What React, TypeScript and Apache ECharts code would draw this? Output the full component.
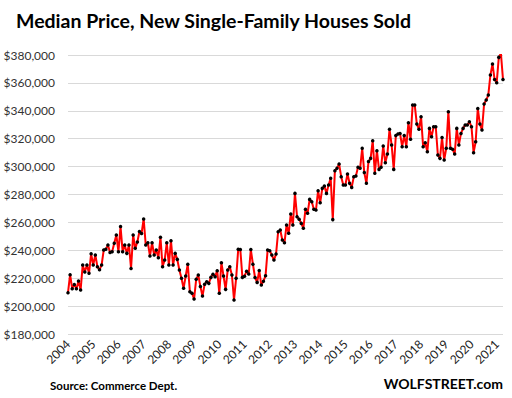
import React, { useEffect, useRef } from "react";
import * as echarts from "echarts";

const years = ["2004","2005","2006","2007","2008","2009","2010","2011","2012","2013","2014","2015","2016","2017","2018","2019","2020","2021"];
const monthNames = ["01","02","03","04","05","06","07","08","09","10","11","12"];

const p2004 = [209600, 222500, 212500, 215500, 212500, 218000, 211500, 229500, 224500, 229500, 223500, 237500];
const p2005 = [229500, 236600, 228200, 226000, 229500, 240200, 240700, 243800, 238500, 239000, 245000, 251000];
const p2006 = [239000, 257000, 239000, 243800, 237800, 243800, 227000, 251000, 241400, 246000, 253500, 252000];
const p2007 = [262500, 243800, 245400, 235900, 245400, 236600, 240200, 234700, 249300, 228200, 233000, 245400];
const p2008 = [229500, 246900, 229500, 237800, 233500, 225900, 219900, 212800, 221600, 230000, 210300, 209200];
const p2009 = [205100, 219200, 222300, 214000, 207200, 215600, 217500, 216300, 220600, 222800, 221100, 225400];
const p2010 = [209200, 231100, 221600, 212000, 225900, 228200, 222300, 204400, 219900, 240700, 240500, 220600];
const p2011 = [221400, 225000, 223000, 240500, 230000, 220500, 217000, 225500, 215100, 217800, 221800, 240200];
const p2012 = [239700, 236600, 233000, 237300, 253300, 254500, 247400, 245400, 258100, 252200, 266000, 258100];
const p2013 = [280800, 264100, 262200, 259300, 255800, 269400, 266500, 276500, 274800, 269400, 268900, 282700];
const p2014 = [274100, 284400, 286100, 280800, 286800, 291600, 262000, 297100, 298800, 301900, 292800, 286800];
const p2015 = [286800, 294700, 288000, 285100, 292800, 293300, 299500, 298800, 313100, 295700, 288000, 303600];
const p2016 = [305900, 318600, 295200, 311400, 298000, 299500, 314800, 302800, 309000, 326700, 315500, 298000];
const p2017 = [322300, 323400, 323800, 314300, 322300, 314300, 331500, 319600, 344100, 344100, 330500, 326700];
const p2018 = [335800, 314300, 317100, 310700, 327400, 321400, 328600, 328600, 308300, 305900, 320900, 304700];
const p2019 = [313100, 339300, 313100, 312400, 309000, 327400, 315500, 323800, 327400, 329800, 329800, 332200];
const p2020 = [328600, 310000, 317800, 341700, 330500, 326200, 344900, 347700, 351300, 365600, 373500, 362500];
const p2021 = [360100, 378300, 381200, 362500];

const yearSeries = [p2004, p2005, p2006, p2007, p2008, p2009, p2010, p2011, p2012, p2013, p2014, p2015, p2016, p2017, p2018, p2019, p2020, p2021];

const yMin = 180000;
const yMax = 380000;
const yStep = 20000;

const title = "Median Price, New Single-Family Houses Sold";
const source = "Source: Commerce Dept.";
const brand = "WOLFSTREET.com";

export default function App() {
  const ref = useRef<HTMLDivElement>(null);
  useEffect(() => {
    if (!ref.current) return;
    const chart = echarts.init(ref.current, null, { renderer: "svg" });
    const categories: string[] = [];
    const values: number[] = [];
    yearSeries.forEach((arr, yi) => {
      arr.forEach((v, mi) => {
        categories.push(years[yi] + "-" + monthNames[mi]);
        values.push(v);
      });
    });
    chart.setOption({
      animation: false,
      backgroundColor: "#ffffff",
      grid: { left: 68, right: 9, top: 55, bottom: 64, containLabel: false },
      xAxis: {
        type: "category",
        data: categories,
        boundaryGap: false,
        axisLine: { show: false },
        axisTick: { show: false },
        splitLine: { show: false },
        axisLabel: {
          interval: (i: number) => i % 12 === 0,
          rotate: 45,
          margin: 8,
          color: "#222",
          fontFamily: "Lato",
          fontSize: 12,
          formatter: (v: string) => v.slice(0, 4),
        },
      },
      yAxis: {
        type: "value",
        min: yMin,
        max: yMax,
        interval: yStep,
        axisLine: { show: false },
        axisTick: { show: false },
        splitLine: { lineStyle: { color: "#d9d9d9", width: 1 } },
        axisLabel: {
          margin: 13,
          color: "#333",
          fontFamily: "Lato",
          fontSize: 12,
          formatter: (v: number) => "$" + v.toLocaleString("en-US"),
        },
      },
      series: [
        {
          type: "line",
          data: values,
          symbol: "circle",
          symbolSize: 3.5,
          showSymbol: true,
          showAllSymbol: true,
          itemStyle: { color: "#000000", borderWidth: 0 },
          lineStyle: { color: "#ff0000", width: 2 },
        },
      ],
      graphic: [
        {
          type: "text",
          left: 16,
          top: 10,
          style: { text: title, font: "bold 19.5px Lato", fill: "#000" },
        },
        {
          type: "text",
          left: 50,
          top: 379,
          style: { text: source, font: "bold 11.5px Lato", fill: "#000" },
        },
        {
          type: "text",
          right: 9,
          top: 376,
          style: { text: brand, font: "bold 14px Lato", fill: "#000" },
        },
      ],
    });
    return () => chart.dispose();
  }, []);
  return (
    <div
      ref={ref}
      style={{ position: "fixed", left: 0, top: 0, width: 512, height: 398 }}
    />
  );
}
